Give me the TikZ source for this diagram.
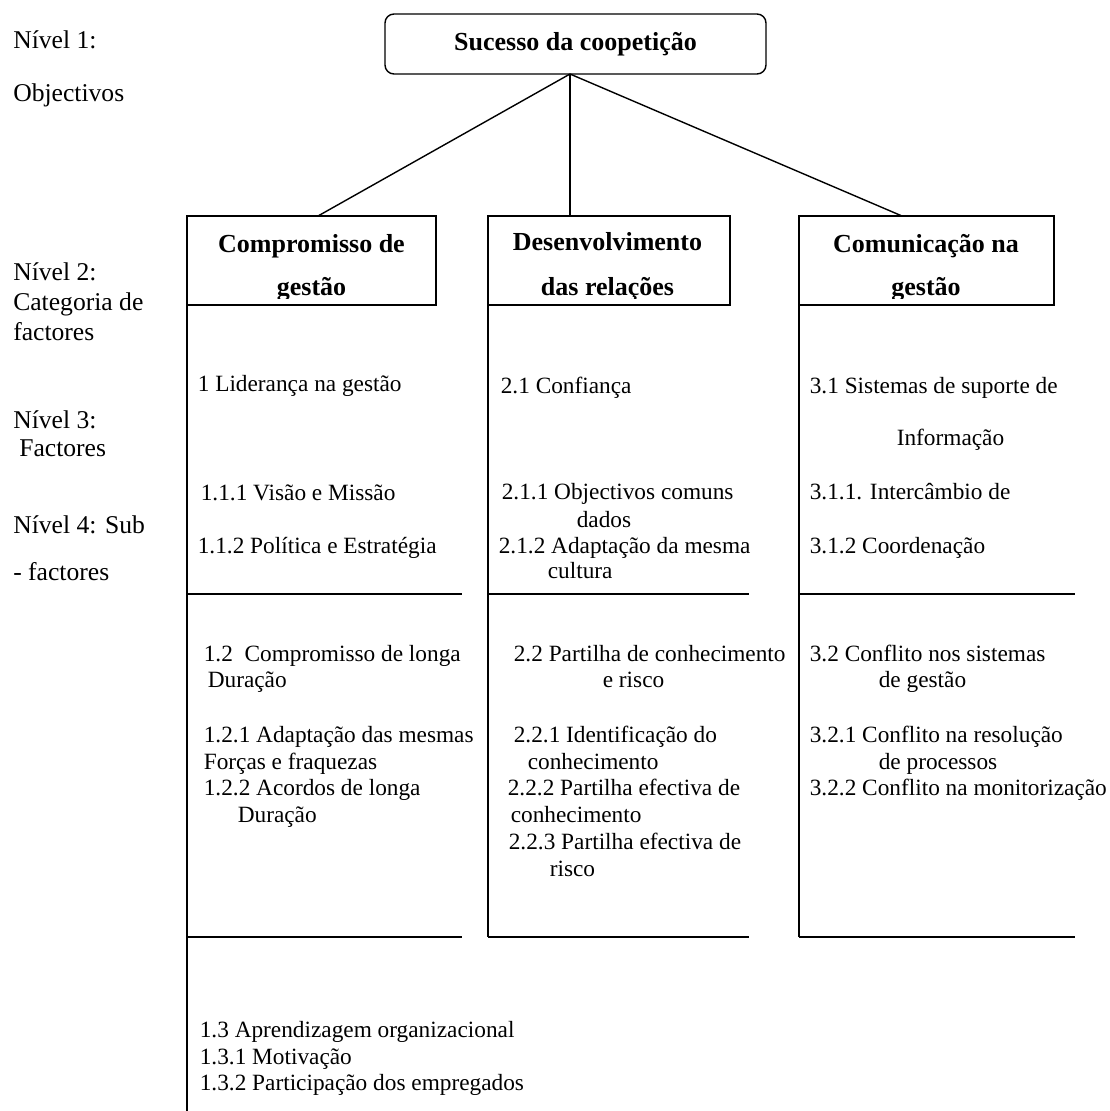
\documentclass[tikz,border=0pt]{standalone}
\usepackage{fontspec}
\setmainfont{Liberation Serif}
\begin{document}
\begin{tikzpicture}[x=1pt,y=-1pt,
  line width=1.6pt,
  catbox/.style={draw, minimum height=89pt, inner sep=0pt, outer sep=0pt},
  topbox/.style={draw, rounded corners=9pt, minimum width=381pt, minimum height=60pt, inner sep=0pt, outer sep=0pt, line width=1.4pt, font=\bfseries\fontsize{26}{30}\selectfont},
  conn/.style={line width=1.4pt},
  rule/.style={line width=1.6pt},
  txt/.style={anchor=base west, inner sep=0pt, font=\fontsize{23.3}{27}\selectfont},
  lbl/.style={anchor=base west, inner sep=0pt, font=\fontsize{25.6}{30}\selectfont},
  hd/.style={anchor=base, inner sep=0pt, font=\bfseries\fontsize{26}{30}\selectfont}]
\useasboundingbox (0,0) rectangle (1109,1111);

% level labels
\node[lbl] (l1a) at (12.5,48) {Nível 1:};
\node[lbl] (l1b) at (12.5,101) {Objectivos};
\node[lbl] (l2a) at (12.5,280) {Nível 2:};
\node[lbl] (l2b) at (12.5,310) {Categoria de};
\node[lbl] (l2c) at (12.5,340) {factores};
\node[lbl] (l3a) at (12.5,428) {Nível 3:};
\node[lbl] (l3b) at (18.5,456) {Factores};
\node[lbl] (l4a) at (12.5,533) {Nível 4: Sub};
\node[lbl] (l4b) at (12.5,580) {- factores};

% top node
\node[topbox] (top) at (575.5,44) {};
\node[hd] (toptxt) at (575.5,50) {Sucesso da coopetição};

% category boxes
\node[catbox, minimum width=249pt] (cat1) at (311.5,260.5) {};
\node[catbox, minimum width=242pt] (cat2) at (609,260.5) {};
\node[catbox, minimum width=255pt] (cat3) at (926.5,260.5) {};
\begin{scope}
  \clip (180,216) rectangle (1060,298);
  \node[hd] (c1a) at (311.5,252) {Compromisso de};
  \node[hd] (c1b) at (311.5,295) {gestão};
  \node[hd] (c2a) at (607.5,250) {Desenvolvimento};
  \node[hd] (c2b) at (607.5,295) {das relações};
  \node[hd] (c3a) at (926,252) {Comunicação na};
  \node[hd] (c3b) at (926,295) {gestão};
\end{scope}

% connectors
\draw[conn] ([xshift=-5.5pt]top.south) -- ([xshift=131pt]cat1.north west);
\draw[conn] ([xshift=-5.5pt]top.south) -- ([xshift=82pt]cat2.north west);
\draw[conn] ([xshift=-5.5pt]top.south) -- ([xshift=103pt]cat3.north west);

% column rules
\coordinate (e1) at (187,1111);
\coordinate (e2) at (488,937);
\coordinate (e3) at (799,937);
\draw[rule] (cat1.south west) -- (e1);
\draw[rule] (cat2.south west) -- (e2);
\draw[rule] (cat3.south west) -- (e3);
\coordinate (h1a) at (187,594); \coordinate (h1b) at (462,594);
\coordinate (h2a) at (488,594); \coordinate (h2b) at (749,594);
\coordinate (h3a) at (799,594); \coordinate (h3b) at (1075,594);
\coordinate (g1a) at (187,937); \coordinate (g1b) at (462,937);
\coordinate (g2a) at (488,937); \coordinate (g2b) at (749,937);
\coordinate (g3a) at (799,937); \coordinate (g3b) at (1075,937);
\draw[rule] (h1a) -- (h1b);
\draw[rule] (h2a) -- (h2b);
\draw[rule] (h3a) -- (h3b);
\draw[rule] (g1a) -- (g1b);
\draw[rule] (g2a) -- (g2b);
\draw[rule] (g3a) -- (g3b);

% column 1
\node[txt] (a1) at (197,391) {1 Liderança na gestão};
\node[txt] (a2) at (200,500) {1.1.1 Visão e Missão};
\node[txt] (a3) at (197,553) {1.1.2 Política e Estratégia};
\node[txt] (a4) at (203,661) {1.2\ \ Compromisso de longa};
\node[txt] (a5) at (207,687) {Duração};
\node[txt] (a6) at (203,742) {1.2.1 Adaptação das mesmas};
\node[txt] (a7) at (203,769) {Forças e fraquezas};
\node[txt] (a8) at (203,795) {1.2.2 Acordos de longa};
\node[txt] (a9) at (237,822) {Duração};
\node[txt] (a10) at (199,1037) {1.3 Aprendizagem organizacional};
\node[txt] (a11) at (199,1064) {1.3.1 Motivação};
\node[txt] (a12) at (199,1090) {1.3.2 Participação dos empregados};

% column 2
\node[txt] (b1) at (500,393) {2.1 Confiança};
\node[txt] (b2) at (501,499) {2.1.1 Objectivos comuns};
\node[txt] (b3) at (576,527) {dados};
\node[txt] (b4) at (498,553) {2.1.2 Adaptação da mesma};
\node[txt] (b5) at (547,578) {cultura};
\node[txt] (b6) at (513,661) {2.2 Partilha de conhecimento};
\node[txt] (b7) at (602,687) {e risco};
\node[txt] (b8) at (513,742) {2.2.1 Identificação do};
\node[txt] (b9) at (527,769) {conhecimento};
\node[txt] (b10) at (507,795) {2.2.2 Partilha efectiva de};
\node[txt] (b11) at (510,822) {conhecimento};
\node[txt] (b12) at (508,849) {2.2.3 Partilha efectiva de};
\node[txt] (b13) at (549,876) {risco};

% column 3
\node[txt] (r1) at (809,393) {3.1 Sistemas de suporte de};
\node[txt] (r2) at (896,445) {Informação};
\node[txt] (r3) at (809,499) {3.1.1. Intercâmbio de};
\node[txt] (r4) at (809,553) {3.1.2 Coordenação};
\node[txt] (r5) at (809,661) {3.2 Conflito nos sistemas};
\node[txt] (r6) at (878,687) {de gestão};
\node[txt] (r7) at (809,742) {3.2.1 Conflito na resolução};
\node[txt] (r8) at (878,769) {de processos};
\node[txt] (r9) at (809,795) {3.2.2 Conflito na monitorização};
\end{tikzpicture}
\end{document}
